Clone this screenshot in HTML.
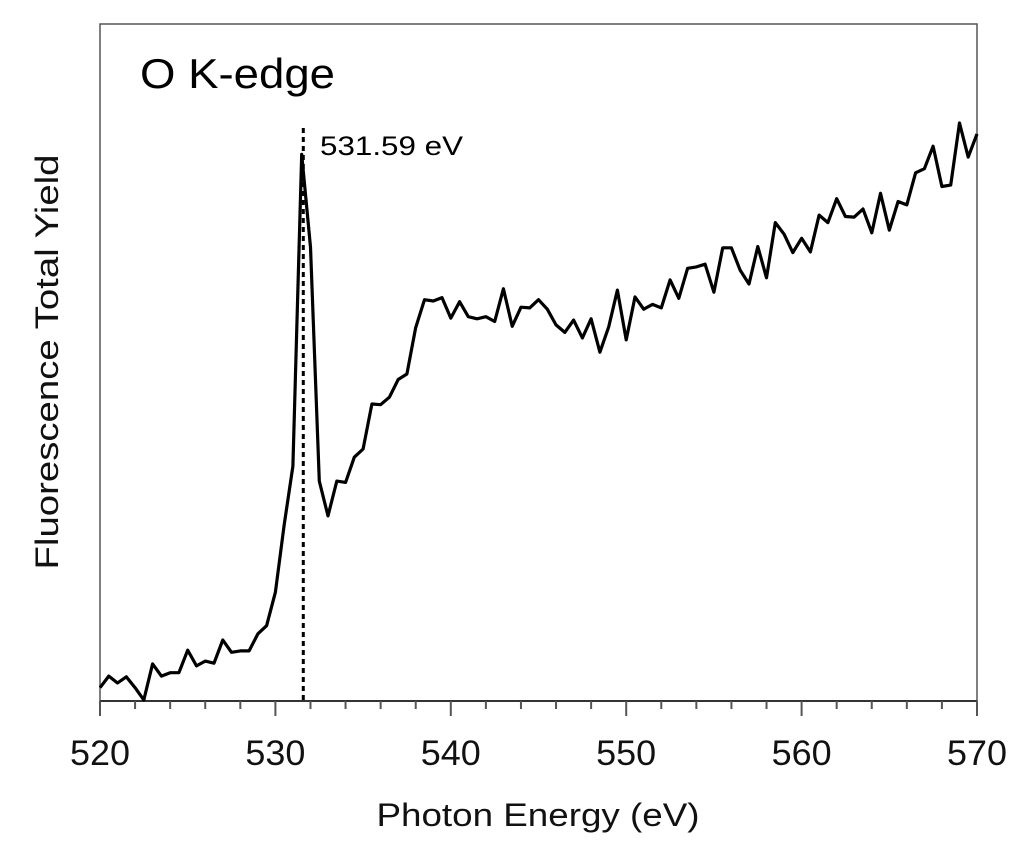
<!DOCTYPE html>
<html><head><meta charset="utf-8"><style>
html,body{margin:0;padding:0;background:#fff;}
svg{display:block;font-family:"Liberation Sans",sans-serif;}
</style></head><body>
<svg id="chart" width="1024" height="853" viewBox="0 0 1024 853" xmlns="http://www.w3.org/2000/svg">
<rect x="100" y="24" width="877" height="677" fill="none" stroke="#555" stroke-width="1.5"/>
<line x1="100" y1="701" x2="977" y2="701" stroke="#333" stroke-width="2"/>
<g id="ticks"></g>
<g id="ticklabels" font-size="35" fill="#111" text-anchor="middle"></g>
<line id="peakline" stroke="#000" stroke-width="3" stroke-dasharray="5,4"/>
<path id="series" fill="none" stroke="#000" stroke-width="3.2" stroke-linejoin="round"/>
<text x="140" y="88" font-size="42" textLength="195" lengthAdjust="spacingAndGlyphs" fill="#000">O K-edge</text>
<text id="peaklabel" x="320" y="155" font-size="27" textLength="143" lengthAdjust="spacingAndGlyphs" fill="#000">531.59 eV</text>
<text x="538" y="826" font-size="32" text-anchor="middle" textLength="323" lengthAdjust="spacingAndGlyphs" fill="#111">Photon Energy (eV)</text>
<text transform="translate(58,362) rotate(-90)" font-size="32" text-anchor="middle" textLength="415" lengthAdjust="spacingAndGlyphs" fill="#111">Fluorescence Total Yield</text>
</svg>
<script>
const tickLabels = ["520","530","540","550","560","570"];
const tickValues = [520,530,540,550,560,570];
const peakEnergy = 531.59;
const energyStart = 520;
const energyStep = 0.5;
const yieldValues = [1.8,3.5,2.5,3.4,1.8,0,5.3,3.5,4.0,4.0,7.3,5.0,5.7,5.4,8.8,7.0,7.2,7.2,9.7,10.9,15.8,25.7,34.3,80.0,66.4,32.1,27.0,32.1,31.9,35.6,36.8,43.4,43.3,44.4,47.0,47.8,54.6,58.7,58.5,59.0,
56.0,58.4,56.2,55.9,56.2,55.5,60.3,54.8,57.6,57.5,58.7,57.3,55,53.9,55.7,53.1,55.9,51.0,54.7,60.1,52.8,59.1,57.3,58,57.5,61.6,58.9,63.3,63.5,63.9,59.8,66.3,66.3,63,61,66.5,61.9,70,68.3,65.6,67.7,65.7,71.1,70,73.5,70.9,70.8,72,68.5,74.3,68.9,73.1,72.6,77.3,77.9,81.2,75.3,75.5,84.6,79.6,83];
const NS="http://www.w3.org/2000/svg";
function xScale(e){return 100+(e-520)/(570-520)*877;}
function yScale(v){return 700-v/100*682;}
const ticksG=document.getElementById('ticks');
for(let e=520;e<=570;e+=2){
  const major = tickValues.includes(e);
  const l=document.createElementNS(NS,'line');
  
  
  l.setAttribute('x1',xScale(e));l.setAttribute('x2',xScale(e));
  l.setAttribute('y1',701);l.setAttribute('y2',major?716:709);
  l.setAttribute('stroke','#555');l.setAttribute('stroke-width','2');
  ticksG.appendChild(l);
}
const tlG=document.getElementById('ticklabels');
tickValues.forEach((v,i)=>{
  const t=document.createElementNS(NS,'text');
  
  
  t.setAttribute('x',xScale(v));t.setAttribute('y',765);
  t.setAttribute('textLength','60');t.setAttribute('lengthAdjust','spacingAndGlyphs');
  t.textContent=tickLabels[i];
  tlG.appendChild(t);
});
let d='';
yieldValues.forEach((v,i)=>{
  const e=energyStart+i*energyStep;
  d+=(i?'L':'M')+xScale(e).toFixed(1)+','+yScale(v).toFixed(1);
});
document.getElementById('series').setAttribute('d',d);
const pl=document.getElementById('peakline');
pl.setAttribute('x1',xScale(peakEnergy));pl.setAttribute('x2',xScale(peakEnergy));
pl.setAttribute('y1',128);pl.setAttribute('y2',701);
</script>
</body></html>
